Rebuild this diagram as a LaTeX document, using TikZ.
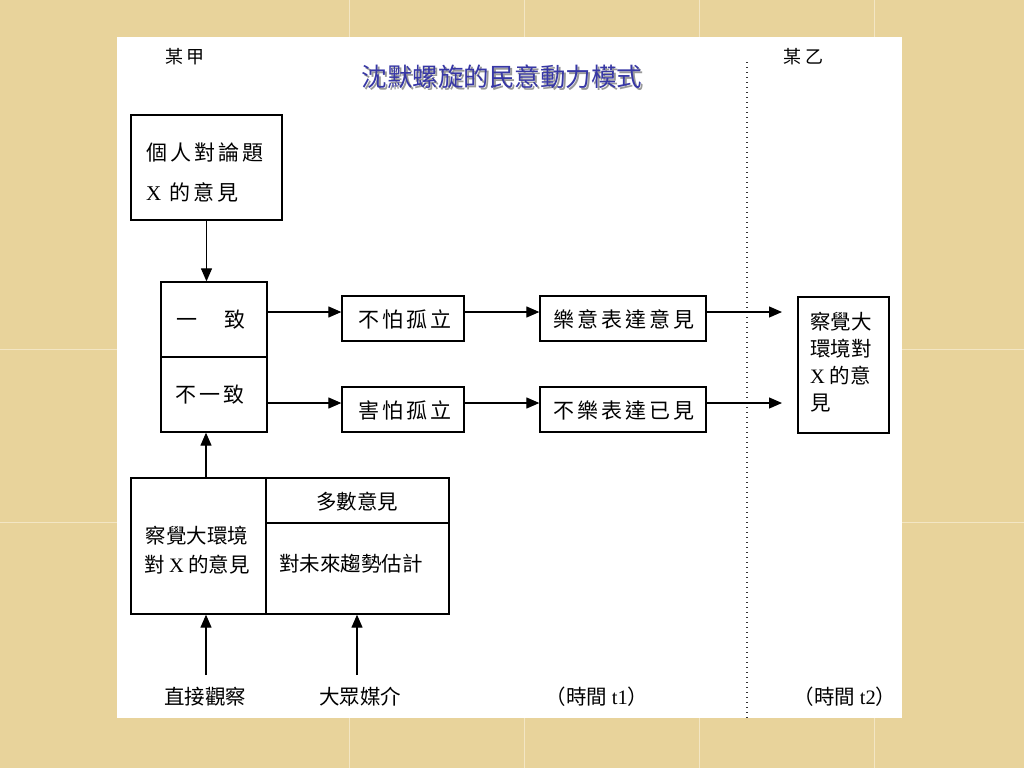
\documentclass[tikz,border=0pt]{standalone}
\usepackage{fontspec}
\setmainfont{Noto Sans CJK TC}
\newfontfamily\cjksp[LetterSpace=15]{Noto Sans CJK TC}
\newfontfamily\latf{Liberation Serif}
\usetikzlibrary{arrows.meta}
\definecolor{parch}{RGB}{232,211,155}
\definecolor{seam}{RGB}{243,230,196}
\definecolor{titleblue}{RGB}{55,55,165}
\begin{document}
\begin{tikzpicture}[x=1pt,y=-1pt,
  box/.style={draw=black,line width=1.3pt,fill=white,inner sep=0pt},
  arr/.style={line width=1.2pt,-{Triangle[length=13pt,width=11pt]}},
  txt/.style={inner sep=0pt,font=\fontsize{20.5}{24}\selectfont},
  stxt/.style={inner sep=0pt,font=\cjksp\fontsize{21}{24}\selectfont},
]
% background
\fill[parch] (0,0) rectangle (1024,768);
\useasboundingbox (0,0) rectangle (1024,768);
\foreach \sx in {349.5,524.5,699.5,874.5}{\draw[seam,line width=0.8pt] (\sx,0) -- (\sx,768);}
\foreach \sy in {349,522}{\draw[seam,line width=0.8pt] (0,\sy) -- (1024,\sy);}
% white panel
\fill[white] (117,37) rectangle (902,718);

% header labels
\node[inner sep=0pt,font=\fontsize{18}{20}\selectfont] (jia) at (185,57) {某\hspace{4pt}甲};
\node[inner sep=0pt,font=\fontsize{18}{20}\selectfont] (yi) at (803,57) {某\hspace{4pt}乙};
\node[inner sep=0pt,font=\fontsize{25.5}{30}\selectfont,text=black!40] (titleshadow) at (504,79) {沈默螺旋的民意動力模式};
\node[inner sep=0pt,font=\fontsize{25.5}{30}\selectfont,text=titleblue] (title) at (502,77) {沈默螺旋的民意動力模式};

% dotted time divider
\coordinate (dtop) at (747,62);
\coordinate (dbot) at (747,718);
\draw[black!80,line width=1.2pt,dash pattern=on 1.2pt off 3.8pt] (dtop) -- (dbot);

% box 1
\node[box,minimum width=151pt,minimum height=105pt] (own) at (206.5,167.5) {};
\node[inner sep=0pt,anchor=west,align=left,font=\cjksp\fontsize{21}{40}\selectfont] (owntxt) at (146,172) {個人對論題\\{\latf X} 的意見};

% split box
\node[box,minimum width=106pt,minimum height=75pt] (agree) at (214,319.5) {};
\node[box,minimum width=106pt,minimum height=75pt] (disagree) at (214,394.5) {};
\node[stxt] (agreetxt) at (211,320) {一　致};
\node[stxt] (disagreetxt) at (210,395) {不一致};

% middle boxes
\node[box,minimum width=122pt,minimum height=45pt] (nofear) at (403,318.5) {};
\node[stxt] (nofeartxt) at (405,319) {不怕孤立};
\node[box,minimum width=166pt,minimum height=45pt] (willing) at (623,318.5) {};
\node[stxt] (willingtxt) at (624,319) {樂意表達意見};
\node[box,minimum width=122pt,minimum height=45pt] (fear) at (403,409.5) {};
\node[stxt] (feartxt) at (405,410) {害怕孤立};
\node[box,minimum width=166pt,minimum height=45pt] (unwilling) at (623,409.5) {};
\node[stxt] (unwillingtxt) at (624,410) {不樂表達已見};

% right box
\node[box,minimum width=91pt,minimum height=136pt] (right) at (843.5,365) {};
\node[inner sep=0pt,anchor=west,align=left,font=\fontsize{20.5}{27}\selectfont] (righttxt) at (810,362) {察覺大\\環境對\\{\latf X} 的意\\見};

% bottom box
\node[box,minimum width=135pt,minimum height=136pt] (perceive) at (198.5,546) {};
\node[box,minimum width=183pt,minimum height=45pt] (majority) at (357.5,500.5) {};
\node[box,minimum width=183pt,minimum height=91pt] (trend) at (357.5,568.5) {};
\node[inner sep=0pt,align=center,font=\fontsize{20.5}{29}\selectfont] (perceivetxt) at (197,550) {察覺大環境\\對 {\latf X} 的意見};
\node[txt] (majoritytxt) at (357,502) {多數意見};
\node[txt] (trendtxt) at (351,564) {對未來趨勢估計};

% bottom labels
\node[txt] (direct) at (205,697) {直接觀察};
\node[txt] (media) at (360,697) {大眾媒介};
\node[txt] (t1) at (597,697) {（時間 {\latf t1}）};
\node[txt] (t2) at (845,697) {（時間 {\latf t2}）};

% helper coordinates
\coordinate (r1) at (0,312);
\coordinate (r2) at (0,403);
\coordinate (cx) at (206,0);
\coordinate (e1) at (782,312);
\coordinate (e2) at (782,403);
\coordinate (s1) at (206,675);
\coordinate (s2) at (357,675);

% connectors
\draw[arr] (own.south) -- (own.south |- agree.north);
\draw[arr] (agree.east |- r1) -- (nofear.west |- r1);
\draw[arr] (nofear.east |- r1) -- (willing.west |- r1);
\draw[arr] (willing.east |- r1) -- (e1);
\draw[arr] (disagree.east |- r2) -- (fear.west |- r2);
\draw[arr] (fear.east |- r2) -- (unwilling.west |- r2);
\draw[arr] (unwilling.east |- r2) -- (e2);
\draw[arr] (perceive.north -| cx) -- (disagree.south -| cx);
\draw[arr] (s1) -- (s1 |- perceive.south);
\draw[arr] (s2) -- (s2 |- trend.south);
\end{tikzpicture}
\end{document}
